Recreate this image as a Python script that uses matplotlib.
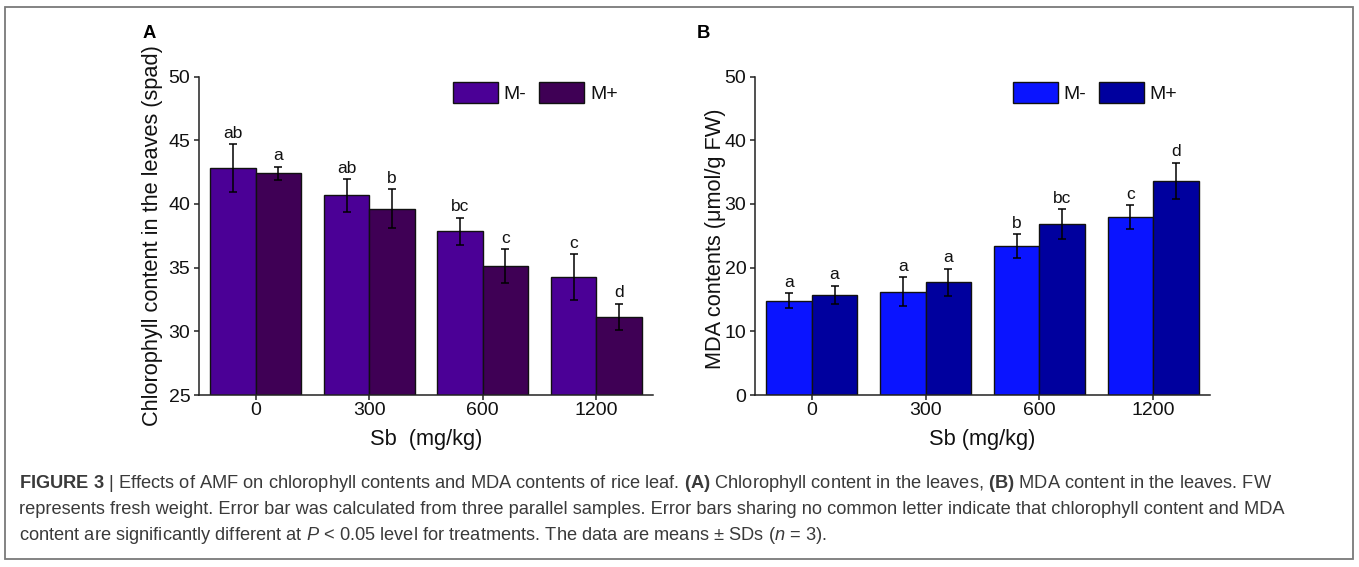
import matplotlib
matplotlib.use("Agg")
import matplotlib.pyplot as plt
from matplotlib.patches import Rectangle
import numpy as np

plt.rcParams['font.family'] = ['Liberation Sans', 'DejaVu Sans']
plt.rcParams['mathtext.fontset'] = 'custom'
plt.rcParams['mathtext.rm'] = 'Liberation Sans'
plt.rcParams['mathtext.it'] = 'Liberation Sans:italic'
plt.rcParams['mathtext.bf'] = 'Liberation Sans:bold'

# ---------------- data ----------------
categories = ['0', '300', '600', '1200']
series = ['M-', 'M+']

chl_minus = [42.83, 40.66, 37.85, 34.25]
chl_minus_sd = [1.87, 1.26, 1.07, 1.81]
chl_plus = [42.39, 39.61, 35.12, 31.13]
chl_plus_sd = [0.52, 1.54, 1.31, 1.02]
chl_letters_minus = ['ab', 'ab', 'bc', 'c']
chl_letters_plus = ['a', 'b', 'c', 'd']

mda_minus = [14.8, 16.2, 23.4, 27.9]
mda_minus_sd = [1.2, 2.26, 1.84, 1.89]
mda_plus = [15.7, 17.7, 26.8, 33.6]
mda_plus_sd = [1.42, 2.1, 2.36, 2.88]
mda_letters_minus = ['a', 'a', 'b', 'c']
mda_letters_plus = ['a', 'a', 'bc', 'd']

chl_ticks = [25, 30, 35, 40, 45, 50]
mda_ticks = [0, 10, 20, 30, 40, 50]

# ---------------- layout ----------------
W, H = 1359, 567
fig = plt.figure(figsize=(W / 100, H / 100), dpi=100)
fig.patch.set_facecolor('white')

ax_bottom = (H - 395) / H
ax_h = 318.5 / H
axA = fig.add_axes([199 / W, ax_bottom, 454 / W, ax_h])
axB = fig.add_axes([755 / W, ax_bottom, 455 / W, ax_h])

edge = '#111111'
bw = 0.4


def draw_panel(ax, vm, sm, vp, sp, lm, lp, cols, ylim, yticks, ylabel, xlabel,
               ylab_coords, leg_x):
    x = np.arange(len(categories))
    ekw = dict(ecolor='black', elinewidth=1.1, capthick=1.1)
    ax.bar(x - bw / 2, vm, bw, yerr=sm, color=cols[0], edgecolor=edge,
           linewidth=1.0, capsize=2.7, error_kw=ekw, label=series[0], zorder=2)
    ax.bar(x + bw / 2, vp, bw, yerr=sp, color=cols[1], edgecolor=edge,
           linewidth=1.0, capsize=2.7, error_kw=ekw, label=series[1], zorder=2)
    for i in range(len(categories)):
        ax.annotate(lm[i], (x[i] - bw / 2, vm[i] + sm[i]), xytext=(0, 2.5),
                    textcoords='offset points', ha='center', va='bottom',
                    fontsize=12.5, color='#111')
        ax.annotate(lp[i], (x[i] + bw / 2, vp[i] + sp[i]), xytext=(0, 2.5),
                    textcoords='offset points', ha='center', va='bottom',
                    fontsize=12.5, color='#111')
    ax.set_xlim(-0.5, len(categories) - 0.5)
    ax.set_ylim(*ylim)
    ax.set_yticks(yticks)
    ax.set_xticks(x)
    ax.set_xticklabels(categories)
    for s in ['top', 'right']:
        ax.spines[s].set_visible(False)
    for s in ['left', 'bottom']:
        ax.spines[s].set_linewidth(1.1)
        ax.spines[s].set_color('#222')
    ax.tick_params(axis='both', direction='out', length=3.8, width=1.1,
                   colors='#222', labelsize=14, labelcolor='#111')
    ax.tick_params(axis='x', pad=1.5)
    ax.tick_params(axis='y', pad=2.5)
    ax.set_ylabel(ylabel, fontsize=15.7, color='#111')
    ax.yaxis.set_label_coords(*ylab_coords)
    ax.set_xlabel(xlabel, fontsize=15.7, color='#111')
    ax.xaxis.set_label_coords(0.5, -0.108)
    ax.set_facecolor('none')
    leg = ax.legend(loc='upper left', bbox_to_anchor=(leg_x, 0.982), ncol=2,
                    frameon=False, fontsize=14, handlelength=2.32,
                    handleheight=1.25, handletextpad=0.3, columnspacing=0.65,
                    borderpad=0, borderaxespad=0)
    for t in leg.get_texts():
        t.set_color('#111')


draw_panel(axA, chl_minus, chl_minus_sd, chl_plus, chl_plus_sd,
           chl_letters_minus, chl_letters_plus, ['#4B0096', '#3F0055'],
           (25, 50), chl_ticks, 'Chlorophyll content in the leaves (spad)',
           'Sb  (mg/kg)', (-0.079, 0.5), 0.559)
draw_panel(axB, mda_minus, mda_minus_sd, mda_plus, mda_plus_sd,
           mda_letters_minus, mda_letters_plus, ['#0A14FF', '#00009E'],
           (0, 50), mda_ticks, 'MDA contents (μmol/g FW)',
           'Sb (mg/kg)', (-0.064, 0.49), 0.566)

# panel letters
fig.text(143 / W, 1 - 34 / H, 'A', fontsize=13.3, fontweight='bold', va='center')
fig.text(697 / W, 1 - 34 / H, 'B', fontsize=13.3, fontweight='bold', va='center')

# outer frame
fig.patches.append(Rectangle((5 / W, (H - 559) / H), (1353 - 5) / W, (559 - 7) / H,
                             transform=fig.transFigure, fill=False,
                             edgecolor='#7a7a7a', linewidth=1.3))

# caption
line1 = (r'$\mathbf{FIGURE\ 3}$ | Effects of AMF on chlorophyll contents and MDA contents '
         r'of rice leaf. $\mathbf{(A)}$ Chlorophyll content in the leaves, '
         r'$\mathbf{(B)}$ MDA content in the leaves. FW')
line2 = ('represents fresh weight. Error bar was calculated from three parallel samples. '
         'Error bars sharing no common letter indicate that chlorophyll content and MDA')
line3 = (r'content are significantly different at $\mathit{P}$ < 0.05 level for treatments. '
         r'The data are means ± SDs ($\mathit{n}$ = 3).')
cap_color = '#3a3a3a'
caps = []
for txt, yc in [(line1, 483), (line2, 509), (line3, 535)]:
    caps.append(fig.text(19 / W, 1 - yc / H, txt, fontsize=10, va='center',
                         ha='left', color=cap_color))
fig.canvas.draw()
r = fig.canvas.get_renderer()
w1 = caps[0].get_window_extent(r).width
fs = 10 * 1250 / w1
for c in caps:
    c.set_fontsize(fs)

fig.savefig('out.png', dpi=100, facecolor='white')
